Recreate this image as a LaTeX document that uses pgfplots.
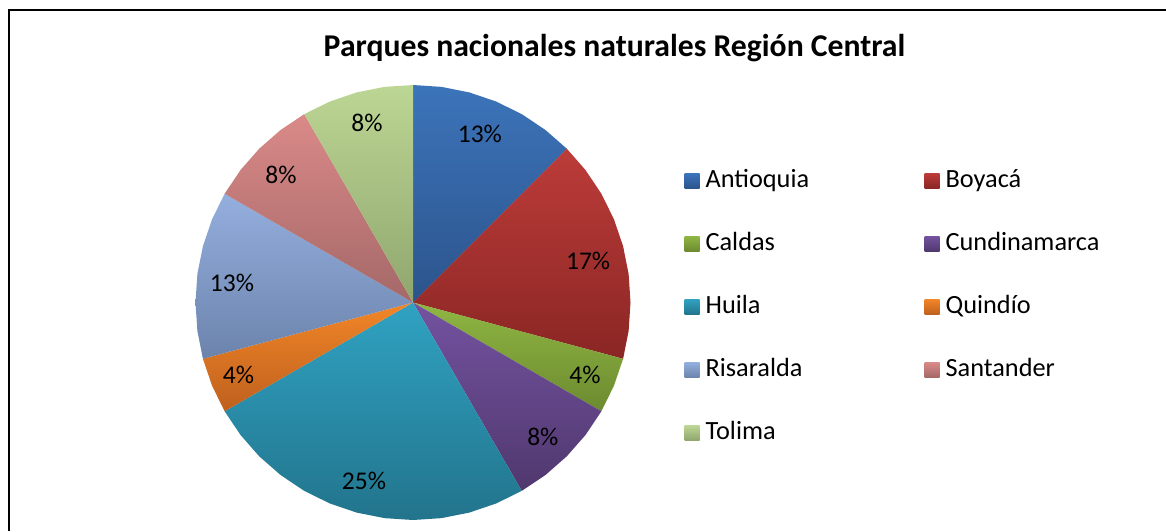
\documentclass[border=0pt]{standalone}
\usepackage{pgfplots}
\pgfplotsset{compat=1.18}
\usepackage{fontspec}
\setmainfont{Carlito}
\definecolor{a1}{RGB}{60,116,186}\definecolor{a2}{RGB}{44,84,140}
\definecolor{b1}{RGB}{188,60,57}\definecolor{b2}{RGB}{138,38,36}
\definecolor{c1}{RGB}{143,182,66}\definecolor{c2}{RGB}{108,138,48}
\definecolor{d1}{RGB}{116,82,160}\definecolor{d2}{RGB}{80,56,110}
\definecolor{e1}{RGB}{48,162,194}\definecolor{e2}{RGB}{34,116,140}
\definecolor{f1}{RGB}{242,134,40}\definecolor{f2}{RGB}{190,96,30}
\definecolor{g1}{RGB}{148,174,222}\definecolor{g2}{RGB}{108,132,172}
\definecolor{h1}{RGB}{218,138,136}\definecolor{h2}{RGB}{164,104,104}
\definecolor{i1}{RGB}{188,214,148}\definecolor{i2}{RGB}{144,166,110}
\pgfplotsset{pie/.style 2 args={top color=#1, bottom color=#2, draw=none, data cs=polar,
  legend image code/.code={\path[top color=#1, bottom color=#2] (0pt,-7.5pt) rectangle (15pt,7.5pt);}}}
\begin{document}
\begin{tikzpicture}[x=1pt,y=1pt]
\useasboundingbox (0,0) rectangle (1166,-531);
\fill[white] (0,0) rectangle (1166,-531);
\draw[line width=2pt] (8.5,-531) -- (8.5,-10) -- (1166,-10);
\node[anchor=base, font=\fontsize{31.7}{36}\selectfont\bfseries, inner sep=0pt] at (614.5,-56) {Parques nacionales naturales Región Central};
\begin{axis}[at={(413pt,-302.5pt)}, anchor=center, scale only axis,
  width=435pt, height=435pt, xmin=-1, xmax=1, ymin=-1, ymax=1,
  hide axis, clip=false,
  legend columns=2,
  legend cell align=left,
  legend style={draw=none, fill=none, at={(1.1244,0.806)}, anchor=north west,
    inner sep=0pt, outer sep=0pt, column sep=0pt, row sep=40pt,
    font=\fontsize{26.3}{30}\selectfont,
    nodes={inner sep=0pt, text height=18pt, text depth=5pt}},
]
\addplot[pie={a1}{a2}] coordinates {(0,0) (90,1) (82.5,1) (75,1) (67.5,1) (60,1) (52.5,1) (45,1)};
\addlegendentry{\makebox[225pt][l]{\hspace{6pt}Antioquia}}
\addplot[pie={b1}{b2}] coordinates {(0,0) (45,1) (37.5,1) (30,1) (22.5,1) (15,1) (7.5,1) (0,1) (-7.5,1) (-15,1)};
\addlegendentry{\hspace{6pt}Boyacá}
\addplot[pie={c1}{c2}] coordinates {(0,0) (-15,1) (-22.5,1) (-30,1)};
\addlegendentry{\makebox[225pt][l]{\hspace{6pt}Caldas}}
\addplot[pie={d1}{d2}] coordinates {(0,0) (-30,1) (-37.5,1) (-45,1) (-52.5,1) (-60,1)};
\addlegendentry{\hspace{6pt}Cundinamarca}
\addplot[pie={e1}{e2}] coordinates {(0,0) (-60,1) (-67.5,1) (-75,1) (-82.5,1) (-90,1) (-97.5,1) (-105,1) (-112.5,1) (-120,1) (-127.5,1) (-135,1) (-142.5,1) (-150,1)};
\addlegendentry{\makebox[225pt][l]{\hspace{6pt}Huila}}
\addplot[pie={f1}{f2}] coordinates {(0,0) (-150,1) (-157.5,1) (-165,1)};
\addlegendentry{\hspace{6pt}Quindío}
\addplot[pie={g1}{g2}] coordinates {(0,0) (-165,1) (-172.5,1) (-180,1) (-187.5,1) (-195,1) (-202.5,1) (-210,1)};
\addlegendentry{\makebox[225pt][l]{\hspace{6pt}Risaralda}}
\addplot[pie={h1}{h2}] coordinates {(0,0) (150,1) (142.5,1) (135,1) (127.5,1) (120,1)};
\addlegendentry{\hspace{6pt}Santander}
\addplot[pie={i1}{i2}] coordinates {(0,0) (120,1) (112.5,1) (105,1) (97.5,1) (90,1)};
\addlegendentry{\makebox[225pt][l]{\hspace{6pt}Tolima}}
\addplot[data cs=polar, only marks, mark=*, mark size=0pt, mark options={draw=none, fill=none},
  nodes near coords, point meta=explicit symbolic, forget plot,
  nodes near coords style={anchor=center, inner sep=0pt, font=\fontsize{25.5}{30}\selectfont}]
  coordinates {(68.3,0.832) [13\%] (13.5,0.828) [17\%] (-22.7,0.857) [4\%] (-45.9,0.858) [8\%]
  (-105.4,0.849) [25\%] (202.6,0.869) [4\%] (173.8,0.837) [13\%] (136,0.844) [8\%] (104.4,0.851) [8\%]};
\end{axis}
\end{tikzpicture}
\end{document}
